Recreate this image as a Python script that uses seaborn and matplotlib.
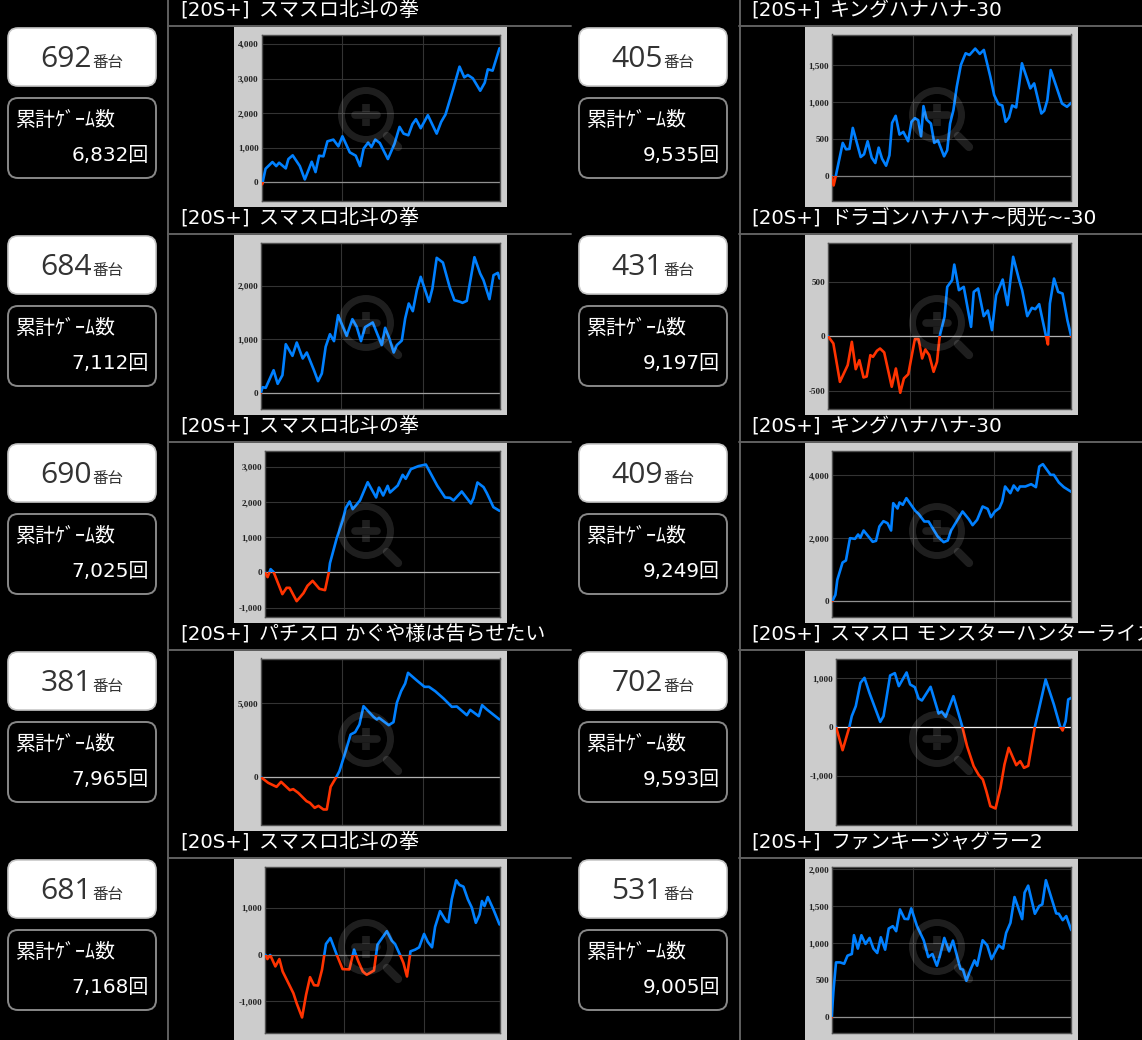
import numpy as np
import matplotlib
matplotlib.use("Agg")
import matplotlib.pyplot as plt
from matplotlib.patches import Circle, FancyBboxPatch, Rectangle
from matplotlib.ticker import FixedLocator, FuncFormatter
import seaborn as sns

# machine numbers, game counts and titles, top row first
left_units = ["692", "684", "690", "381", "681"]
left_games = ["6,832", "7,112", "7,025", "7,965", "7,168"]
left_titles = ["スマスロ北斗の拳", "スマスロ北斗の拳", "スマスロ北斗の拳",
               "パチスロ かぐや様は告らせたい", "スマスロ北斗の拳"]
right_units = ["405", "431", "409", "702", "531"]
right_games = ["9,535", "9,197", "9,249", "9,593", "9,005"]
right_titles = ["キングハナハナ-30", "ドラゴンハナハナ~閃光~-30", "キングハナハナ-30",
                "スマスロ モンスターハンターライズ", "ファンキージャグラー2"]
title_prefix = "[20S+]"

# x is percent of the plot width, y is the coin difference
x_692 = [0, .3, 1.7, 4.6, 6.2, 7.4, 10.2, 11.3, 13.1, 16.1, 18.2, 21.1, 22.7, 24.2, 26, 27.7, 30.2, 32.3, 34, 37.1, 39.6, 41.4, 42.9, 44.8, 46.2, 47.8, 49.7, 53.1, 55.9, 58, 59.7, 61.7, 63.4, 64.9, 66.9, 69.9, 73.6, 75.5, 77.3, 80.4, 83.2, 85.2, 86.7, 88.8, 91.9, 93.8, 95.1, 97.1, 100]
y_692 = [0, -50, 396, 590, 473, 570, 406, 676, 783, 473, 87, 599, 300, 773, 754, 1188, 1237, 1043, 1333, 870, 773, 473, 976, 1150, 1024, 1237, 1140, 676, 1120, 1604, 1410, 1362, 1681, 1826, 1565, 1942, 1410, 1749, 1961, 2667, 3343, 3034, 3101, 3005, 2647, 2879, 3266, 3227, 3874]

x_405 = [0, .8, 1.7, 4.6, 6, 7.4, 8.8, 12.1, 13.5, 15, 16.7, 18.2, 19.6, 21, 22.7, 24.1, 25.2, 26.7, 28.3, 29.9, 31.9, 33.3, 34.7, 36.1, 37.3, 38.3, 39.6, 41.4, 42.8, 44.3, 46.9, 48.2, 49.4, 50.8, 52.2, 53.9, 55.9, 57.5, 59.9, 61.8, 63.5, 66.2, 67.8, 69.6, 71.2, 72.6, 74, 75.3, 77, 79.4, 82.9, 84.5, 87.5, 88.7, 90, 91.4, 93.3, 96.1, 98.2, 100]
y_405 = [0, -127, 0, 449, 362, 367, 652, 258, 295, 471, 249, 177, 385, 236, 140, 281, 720, 816, 562, 598, 471, 734, 784, 757, 539, 947, 766, 711, 449, 485, 267, 349, 711, 893, 1210, 1504, 1663, 1640, 1726, 1654, 1708, 1346, 1097, 974, 956, 734, 793, 956, 929, 1527, 1187, 1255, 847, 884, 1029, 1436, 1255, 983, 938, 992]

x_684 = [0, .8, 2.1, 5.4, 7.1, 9.1, 10.5, 13.3, 15.1, 17.6, 19.3, 22.3, 24, 25.6, 27.2, 29, 30.7, 32.4, 36, 38.4, 40.2, 42, 43.7, 46.9, 50.7, 52.1, 53.9, 55.7, 57, 59.1, 60.5, 62, 63.7, 65.4, 67, 70.5, 71.9, 73.7, 76.3, 79.1, 81.1, 83.5, 84.5, 86.3, 89.5, 91.9, 93.3, 95.8, 97.5, 99.3, 100]
y_684 = [0, 111, 99, 427, 173, 334, 910, 693, 941, 644, 755, 427, 223, 365, 861, 1096, 966, 1449, 1065, 1375, 1232, 966, 1226, 1313, 892, 1214, 1015, 755, 892, 978, 1387, 1666, 1523, 1913, 2161, 1697, 1944, 2514, 2427, 1975, 1728, 1697, 1678, 1715, 2526, 2223, 2099, 1746, 2192, 2235, 2130]

x_431 = [0, 2.2, 4.9, 8.1, 9.8, 11.4, 12.9, 14.6, 15.9, 17.4, 18.5, 20.1, 21.4, 23.1, 26.2, 27.9, 29.7, 31.2, 33, 35.7, 37.2, 38.7, 40, 41.6, 43.4, 44.8, 45.9, 47.9, 49, 51, 51.9, 53.8, 55.8, 58.8, 59.9, 61.7, 64, 65.7, 67.4, 69.1, 71.8, 73.8, 76.1, 78.4, 79.8, 81.9, 83.8, 85.2, 86.8, 89.6, 90.4, 91.2, 92.9, 94.6, 96.4, 98.4, 100]
y_431 = [0, -67, -418, -265, -52, -302, -220, -378, -369, -174, -189, -134, -113, -149, -463, -296, -518, -387, -348, -27, -27, -204, -122, -174, -326, -235, 0, 177, 451, 512, 655, 421, 451, 85, 405, 436, 183, 235, 55, 375, 518, 284, 726, 527, 421, 183, 259, 247, 293, 0, -76, 299, 527, 405, 390, 146, -6]

x_690 = [0, 1.1, 2.4, 3.7, 7.4, 9.2, 10.5, 13.5, 16.4, 18.1, 20.3, 23.2, 25.6, 27.2, 27.7, 30.6, 33.1, 34.4, 36.1, 37.4, 40.5, 43.8, 47.4, 48.6, 50.4, 52.3, 53.3, 56.6, 58.7, 60, 62.2, 65.4, 68.6, 73.5, 76.8, 78.9, 80.4, 83.9, 87.8, 88.9, 90.6, 93.2, 94.6, 97.4, 100]
y_690 = [0, -132, 95, 9, -614, -435, -435, -813, -586, -378, -236, -463, -501, 0, 265, 974, 1474, 1824, 2013, 1796, 2042, 2561, 2127, 2410, 2183, 2457, 2268, 2467, 2769, 2656, 2930, 3015, 3062, 2457, 2127, 2117, 2042, 2297, 1957, 2108, 2552, 2420, 2250, 1853, 1749]

x_409 = [0, 1.3, 2.1, 4.3, 5.7, 7.4, 9.5, 10.8, 11.7, 13.1, 16.9, 18.3, 19.7, 21.4, 23.1, 24.6, 25.5, 27.3, 28.1, 29.5, 31, 34.7, 36.1, 38.5, 40.3, 44.1, 46.6, 48.3, 49.7, 54.5, 57.1, 58.7, 60.6, 62.9, 65, 66.4, 68, 69.9, 71.1, 72.3, 74.5, 75.9, 77.6, 78.5, 80.8, 83.2, 85.2, 86.6, 88.1, 91.3, 92.7, 94.8, 96.9, 100]
y_409 = [0, 201, 679, 1230, 1294, 2004, 1983, 2121, 2015, 2248, 1888, 1919, 2375, 2545, 2481, 2248, 3118, 2948, 3139, 3065, 3277, 2874, 2778, 2534, 2534, 2057, 1877, 1930, 2248, 2853, 2609, 2418, 2587, 3012, 2937, 2672, 2853, 2959, 3171, 3648, 3436, 3680, 3521, 3648, 3648, 3722, 3627, 4284, 4358, 4019, 4019, 3775, 3627, 3478]

x_381 = [0, 2.9, 6.4, 8.3, 12, 13.4, 15.5, 19, 20.4, 22.4, 24, 26.1, 27.5, 29.1, 31.4, 32.8, 35.2, 37.5, 39.4, 41.2, 42.9, 47.1, 48.5, 49.4, 53.5, 55.5, 56.9, 58.7, 60.4, 61.6, 65.3, 68.5, 70.4, 73, 76.5, 80, 82.1, 86.3, 87.7, 91.3, 92.7, 94.7, 100]
y_381 = [0, -360, -631, -293, -856, -788, -1036, -1599, -1712, -2050, -1914, -2162, -2162, -631, 0, 428, 1667, 2905, 3063, 3581, 4820, 4099, 3919, 4032, 3536, 3739, 5045, 5833, 6351, 7072, 6554, 6126, 6126, 5833, 5338, 4775, 4797, 4212, 4572, 4144, 4887, 4595, 3919]

x_702 = [0, 2.8, 5.7, 6.7, 8.4, 10.4, 12.1, 14.2, 18.8, 20.2, 23, 25, 26.7, 30, 31.5, 33.5, 35.1, 36.5, 40.2, 43.6, 44.9, 46.6, 49.9, 53.7, 55.7, 58.5, 60.7, 62.4, 63.9, 65.6, 67.8, 69.9, 71.6, 73.4, 76.6, 78.3, 79.9, 81.7, 84.5, 85.9, 89.1, 92.6, 95.2, 96.3, 97.6, 98.7, 100]
y_702 = [0, -478, 0, 218, 423, 901, 1003, 696, 102, 218, 1051, 1099, 833, 1113, 867, 812, 580, 539, 819, 273, 314, 205, 628, 0, -396, -805, -990, -1078, -1317, -1625, -1672, -1249, -771, -430, -785, -703, -840, -799, 0, 287, 969, 457, 14, -75, 116, 560, 594]

x_681 = [0, .9, 2.1, 4.3, 6, 7.4, 12, 13.4, 15.7, 17.4, 19.1, 20.8, 22.5, 24.2, 25.2, 25.9, 27.8, 30.5, 33, 35.9, 37.9, 39.7, 41.6, 43.3, 46.4, 47.9, 51.9, 54, 55.4, 57.5, 59, 60.5, 62, 64, 65.7, 67.8, 69.4, 71.2, 72.5, 74.6, 77.2, 78.2, 79.6, 81.5, 82.9, 84.6, 86.5, 88.2, 89.9, 91.5, 92.5, 93.6, 95, 97.4, 100]
y_681 = [0, -93, -7, -251, -93, -358, -824, -1039, -1341, -860, -480, -652, -659, -323, 0, 229, 358, 0, -308, -315, 108, -143, -358, -430, -337, 215, 502, 301, 229, 0, -179, -466, 72, 108, 158, 444, 272, 158, 595, 932, 717, 695, 1183, 1591, 1491, 1455, 1183, 1004, 681, 860, 1147, 1039, 1233, 968, 645]

x_531 = [0, .7, 1.8, 3.5, 5.2, 6.6, 8.4, 9.3, 10.9, 12.4, 14.1, 15.8, 17.4, 19, 20.5, 22.3, 23.8, 25.5, 26.9, 28.5, 30.4, 31.9, 33.2, 35.6, 38.4, 40.3, 42, 43.9, 45.3, 47, 49, 50.6, 53.7, 54.8, 56.2, 57.9, 59.6, 60.7, 63, 64.9, 66.7, 69.7, 71.5, 72.8, 74.6, 76.3, 79.5, 80.5, 82, 84.8, 86.6, 87.9, 89.4, 93.7, 94.8, 96.4, 97.9, 100]
y_531 = [0, 348, 742, 742, 724, 833, 855, 1109, 928, 1109, 991, 1072, 928, 869, 1081, 914, 1199, 1231, 1163, 1457, 1330, 1326, 1471, 1231, 1041, 814, 855, 697, 846, 1072, 891, 1036, 656, 643, 493, 643, 769, 697, 1041, 973, 787, 973, 928, 1140, 1276, 1624, 1326, 1683, 1778, 1398, 1502, 1525, 1851, 1403, 1398, 1312, 1367, 1176]

left_x = [x_692, x_684, x_690, x_381, x_681]
left_y = [y_692, y_684, y_690, y_381, y_681]
right_x = [x_405, x_431, x_409, x_702, x_531]
right_y = [y_405, y_431, y_409, y_702, y_531]

# y axis ranges and tick values for each chart
left_ylim = [(-520, 4270), (-285, 2799), (-1248, 3459), (-3176, 8040), (-1663, 1885)]
right_ylim = [(-331, 1917), (-662, 857), (-488, 4793), (-2000, 1399), (-204, 2036)]
left_ticks = [[0, 1000, 2000, 3000, 4000], [0, 1000, 2000], [-1000, 0, 1000, 2000, 3000], [0, 5000], [-1000, 0, 1000]]
right_ticks = [[0, 500, 1000, 1500], [-500, 0, 500], [0, 2000, 4000], [-1000, 0, 1000], [0, 500, 1000, 1500, 2000]]

W, H = 1142, 1040
ROW_STEP = 208
COL_STEP = 571
BLUE = "#0080ff"
RED = "#ff3300"
FONT = ["Noto Sans CJK JP", "DejaVu Sans"]
LATIN_FIRST = ["DejaVu Sans", "Noto Sans CJK JP"]

sns.set_theme(style="dark")
plt.rcParams["font.family"] = FONT

fig = plt.figure(figsize=(W / 100, H / 100), dpi=100, facecolor="black")

# whole figure axes in pixels for the cards, rules and titles
bg = fig.add_axes([0, 0, 1, 1], zorder=0)
bg.set_xlim(0, W)
bg.set_ylim(H, 0)
bg.axis("off")

# top overlay for the zoom icon
top = fig.add_axes([0, 0, 1, 1], zorder=5)
top.set_xlim(0, W)
top.set_ylim(H, 0)
top.axis("off")
top.patch.set_alpha(0)


def draw_card(col, row, unit, games, title):
    dx = col * COL_STEP
    dy = row * ROW_STEP
    bg.plot([168 + dx, 571 + dx if col == 0 else W], [25.5 + dy, 25.5 + dy], color="#606060", lw=1.4)
    bg.text(180 + dx, 16 + dy, title_prefix, color="white", fontsize=14.2, va="baseline", ha="left", family=LATIN_FIRST)
    bg.text(259 + dx, 16 + dy, title, color="white", fontsize=14.4, va="baseline", ha="left", family=LATIN_FIRST)
    bg.add_patch(FancyBboxPatch((8 + dx, 28 + dy), 148, 58, boxstyle="round,pad=0,rounding_size=10",
                                fc="white", ec="#c8c8c8", lw=1.2))
    bg.text(92 + dx, 67 + dy, unit, color="#333333", fontsize=21.6, ha="right", va="baseline", family="Open Sans")
    bg.text(92.5 + dx, 67 + dy, "番台", color="#333333", fontsize=11.2, ha="left", va="baseline")
    bg.add_patch(FancyBboxPatch((8 + dx, 98 + dy), 148, 80, boxstyle="round,pad=0,rounding_size=10",
                                fc="black", ec="#888888", lw=1.4))
    bg.text(15 + dx, 126 + dy, "累計ｹﾞｰﾑ数", color="white", fontsize=14.4, ha="left", va="baseline")
    bg.text(149 + dx, 161 + dy, games + "回", color="white", fontsize=14.4, ha="right", va="baseline", family=LATIN_FIRST)


def draw_chart(col, row, xs, ys, ylim, ticks, left_px, zero_color):
    dx = col * COL_STEP
    dy = row * ROW_STEP
    panel_h = 181 if row == 4 else 180
    bg.add_patch(Rectangle((234 + dx, 27 + dy), 273, panel_h, fc="#cccccc", ec="none"))
    x0, x1 = left_px, 499.5 + dx + (0.8 if col else 0)
    y0, y1 = 34.5 + dy, 200.5 + dy
    ax = fig.add_axes([x0 / W, 1 - y1 / H, (x1 - x0) / W, (y1 - y0) / H], zorder=1)
    ax.set_facecolor("black")
    ax.set_xlim(0, 100)
    ax.set_ylim(*ylim)
    ax.xaxis.set_major_locator(FixedLocator([33.8, 67.8]))
    ax.yaxis.set_major_locator(FixedLocator(ticks))
    ax.yaxis.set_major_formatter(FuncFormatter(lambda v, p: f"{int(v):,}"))
    ax.set_xticklabels([])
    ax.tick_params(axis="both", length=0)
    ax.tick_params(axis="y", pad=2, labelsize=6.6, labelcolor="#222222")
    for lab in ax.get_yticklabels():
        lab.set_fontfamily("Liberation Serif")
        lab.set_fontweight("bold")
    ax.grid(True, color="#333333", lw=0.8)
    ax.set_axisbelow(True)
    for s in ax.spines.values():
        s.set_color("#505050")
        s.set_linewidth(1.0)
    ax.axhline(0, color=zero_color, lw=0.9, zorder=1.5)

    # same line twice, each colour clipped to its side of zero
    df_x = np.array(xs)
    df_y = np.array(ys)
    sns.lineplot(x=df_x, y=df_y, ax=ax, color=BLUE, linewidth=1.9, estimator=None, sort=False, zorder=3)
    up = ax.lines[-1]
    up.set_clip_path(Rectangle((0, 0), 100, ylim[1], transform=ax.transData))
    sns.lineplot(x=df_x, y=df_y, ax=ax, color=RED, linewidth=1.9, estimator=None, sort=False, zorder=3)
    down = ax.lines[-1]
    down.set_clip_path(Rectangle((0, ylim[0]), 100, -ylim[0], transform=ax.transData))
    ax.set_xlabel("")
    ax.set_ylabel("")

    # zoom icon drawn over the chart
    cx, cy = 366 + dx, 115 + dy
    ico = dict(color="white", alpha=0.12, solid_capstyle="round")
    top.add_patch(Circle((cx, cy), 24.5, fill=False, ec="white", alpha=0.12, lw=5))
    top.plot([cx + 21, cx + 32], [cy + 21, cy + 32], lw=6, **ico)
    top.plot([cx - 11, cx + 11], [cy, cy], lw=5.5, **ico)
    top.plot([cx, cx], [cy - 11, cy - 3.5], lw=5.5, color="white", alpha=0.12, solid_capstyle="butt")
    top.plot([cx, cx], [cy + 3.5, cy + 11], lw=5.5, color="white", alpha=0.12, solid_capstyle="butt")


# plot area left edges differ with the tick label width
left_edges = [261.5, 260.7, 265, 261.3, 265.3]
right_edges = [831.7, 828, 832.3, 836, 831.7]
left_zero = ["#909090", "#a0a0a0", "#b0b0b0", "#b0b0b0", "#707070"]
right_zero = ["#808080", "#b0b0b0", "#909090", "#f0f0f0", "#909090"]

bg.plot([168, 168], [0, H], color="#606060", lw=1.4)
bg.plot([739.5, 739.5], [0, H], color="#606060", lw=1.4)

for row in range(5):
    draw_card(0, row, left_units[row], left_games[row], left_titles[row])
    draw_card(1, row, right_units[row], right_games[row], right_titles[row])
    draw_chart(0, row, left_x[row], left_y[row], left_ylim[row], left_ticks[row], left_edges[row], left_zero[row])
    draw_chart(1, row, right_x[row], right_y[row], right_ylim[row], right_ticks[row], right_edges[row], right_zero[row])

fig.savefig("out.png", dpi=100, facecolor="black")
